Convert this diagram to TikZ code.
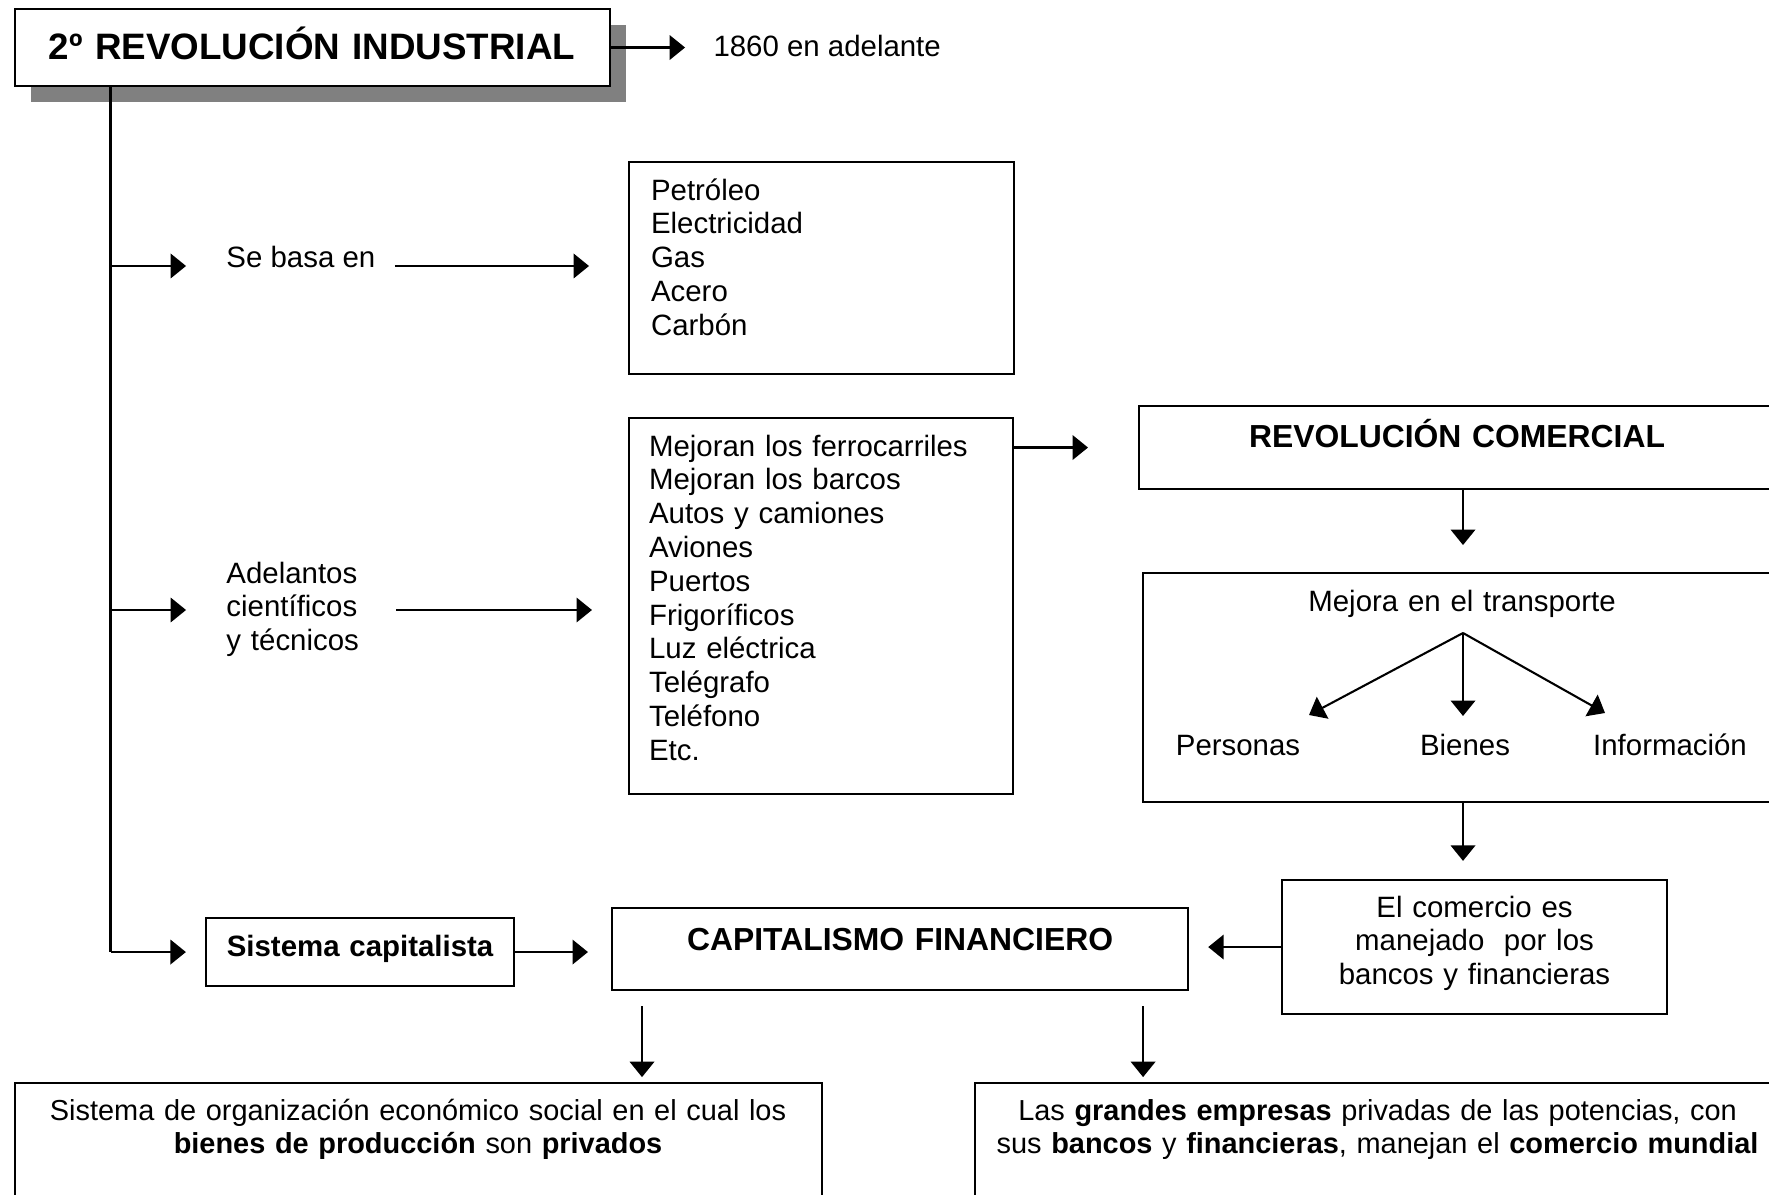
\documentclass[tikz,border=0pt]{standalone}
\usepackage{fontspec}
\setmainfont{Liberation Sans}
\usetikzlibrary{arrows.meta,positioning,shadows}

\tikzset{
  caja/.style n args={4}{draw, line width=0.85pt, fill=white, inner sep=0pt, anchor=north west,
    minimum width=#1*0.408pt, text width=(#1-2*#4)*0.408pt,
    text height=#3*0.408pt, text depth=(#2-#3)*0.408pt},
  texto/.style={font=\fontsize{12}{13.8}\selectfont, inner sep=0pt},
  flecha/.style={line width=0.85pt, -{Triangle[length=6.3pt,width=10pt]}},
  linea/.style={line width=0.85pt},
}

\begin{document}
\begin{tikzpicture}[x=0.408pt, y=-0.408pt]
  \useasboundingbox (0,0) rectangle (1769,1195);

  % titulo y fecha
  \node[caja={595}{77}{50}{0}, align=center, font=\bfseries\fontsize{15}{18}\selectfont,
        general shadow={fill=black!50, shadow xshift=6.7pt, shadow yshift=-6.7pt}] (titulo) at (13.5,8) {2º REVOLUCIÓN INDUSTRIAL};
  \node[texto, anchor=base west] (fecha) at (713,57) {1860 en adelante};

  % columna izquierda
  \node[texto, anchor=base west] (sebasa) at (226,268) {Se basa en};
  \node[texto, anchor=base west, text width=135*0.408pt, align=left] (adelantos) at (226,583) {Adelantos\\científicos\\y técnicos};

  % listas
  \node[caja={385}{212}{38}{22}, texto, align=left] (fuentes) at (628,161) {Petróleo\\Electricidad\\Gas\\Acero\\Carbón};
  \node[caja={384}{376}{38}{20}, texto, align=left] (inventos) at (628,417) {Mejoran los ferrocarriles\\Mejoran los barcos\\Autos y camiones\\Aviones\\Puertos\\Frigoríficos\\Luz eléctrica\\Telégrafo\\Teléfono\\Etc.};

  % columna derecha
  \node[caja={636}{83}{41}{0}, align=center, font=\bfseries\fontsize{13}{15.6}\selectfont] (comercial) at (1138,405) {REVOLUCIÓN COMERCIAL};
  \node[caja={638}{229}{38}{0}, texto, align=center] (transporte) at (1142,572) {Mejora en el transporte};
  \node[texto, anchor=base] (personas) at (1238,755) {Personas};
  \node[texto, anchor=base] (bienes) at (1465,755) {Bienes};
  \node[texto, anchor=base] (informacion) at (1670,755) {Información};
  \node[caja={385}{134}{37}{10}, texto, align=center] (manejo) at (1281,879) {El comercio es\\manejado\ \ por los\\bancos y financieras};

  % fila de abajo
  \node[caja={308}{68}{38}{0}, align=center, font=\bfseries\fontsize{12}{14}\selectfont] (sistema) at (205,917) {Sistema capitalista};
  \node[caja={576}{82}{42}{0}, align=center, font=\bfseries\fontsize{13}{15.6}\selectfont] (capitalismo) at (611,907) {CAPITALISMO FINANCIERO};
  \node[caja={807}{160}{37}{10}, texto, align=center, font=\fontsize{11.8}{13.8}\selectfont] (definicion) at (13.5,1082) {Sistema de organización económico social en el cual los\\\textbf{bienes de producción} son \textbf{privados}};
  \node[caja={806}{160}{37}{0}, texto, align=center, font=\fontsize{11.8}{13.8}\selectfont] (empresas) at (973.5,1082) {Las \textbf{grandes empresas} privadas de las potencias, con\\sus \textbf{bancos} y \textbf{financieras}, manejan el \textbf{comercio mundial}};

  % puntos de apoyo
  \coordinate (tronco) at ([xshift=97*0.408pt]titulo.south west);
  \coordinate (rama1) at (110.5,266);
  \coordinate (rama2) at (110.5,610);
  \coordinate (abanico) at (1463,633);
  \coordinate (a-personas) at (1309,715);
  \coordinate (a-bienes) at (1463,716);
  \coordinate (a-info) at (1605,713);
  \coordinate (baja1) at ([xshift=31*0.408pt]capitalismo.south west);
  \coordinate (baja2) at ([xshift=-46*0.408pt]capitalismo.south east);

  % conectores
  \draw[flecha, shorten >=11.4pt] (titulo.east) -- (titulo.east -| fecha.west);
  \draw[linea] (tronco) -- (tronco |- sistema.west);
  \draw[flecha, shorten >=16.3pt] (rama1) -- (rama1 -| sebasa.west);
  \draw[flecha, shorten >=16.3pt] (rama2) -- (rama2 -| adelantos.west);
  \draw[flecha, shorten >=7.8pt] (tronco |- sistema.west) -- (sistema.west);
  \draw[flecha, shorten <=7.8pt, shorten >=15.9pt] (rama1 -| sebasa.east) -- (rama1 -| fuentes.west);
  \draw[flecha, shorten <=13.9pt, shorten >=14.7pt] (rama2 -| adelantos.east) -- (rama2 -| inventos.west);
  \draw[flecha, shorten >=20.4pt] (inventos.east |- comercial.west) -- (comercial.west);
  \draw[flecha, shorten >=11pt] (comercial.south -| abanico) -- (transporte.north -| abanico);
  \draw[flecha] (abanico) -- (a-personas);
  \draw[flecha] (abanico) -- (a-bienes);
  \draw[flecha] (abanico) -- (a-info);
  \draw[flecha, shorten >=7.4pt] (transporte.south -| abanico) -- (manejo.north -| abanico);
  \draw[flecha, shorten >=7.8pt] (manejo.west) -- (manejo.west -| capitalismo.east);
  \draw[flecha, shorten >=9.4pt] (sistema.east) -- (sistema.east -| capitalismo.west);
  \draw[flecha, shorten <=6.1pt, shorten >=2pt] (baja1) -- (baja1 |- definicion.north);
  \draw[flecha, shorten <=6.1pt, shorten >=2pt] (baja2) -- (baja2 |- empresas.north);
\end{tikzpicture}
\end{document}
